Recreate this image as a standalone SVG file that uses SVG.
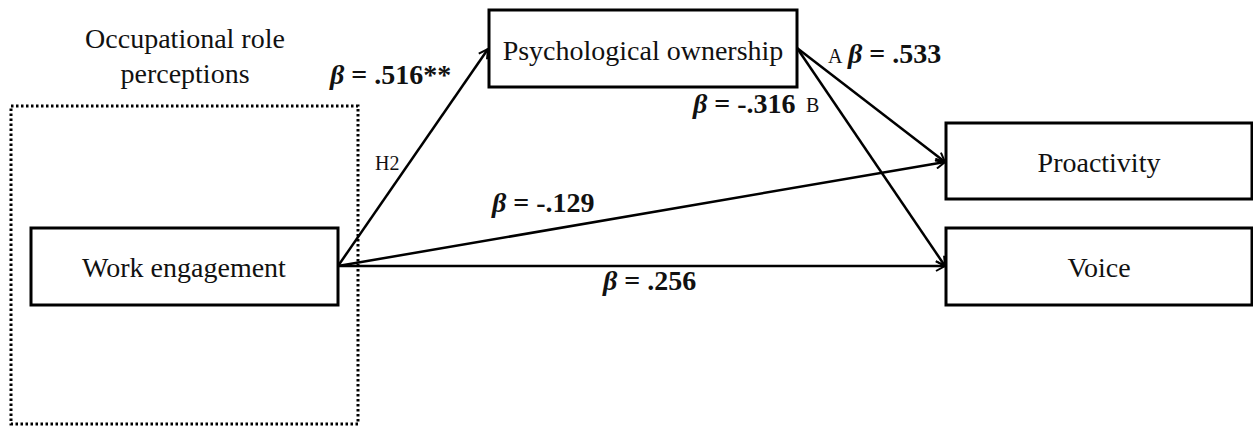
<svg xmlns="http://www.w3.org/2000/svg" width="1253" height="426" viewBox="0 0 1253 426">
<defs>
<style>
.box{fill:#fff;stroke:#000;stroke-width:3}
.lbl{font-family:"Liberation Serif",serif;font-size:28px;fill:#111;text-anchor:middle}
.b{font-family:"Liberation Serif",serif;font-size:28px;font-weight:bold;fill:#111}
.sm{font-family:"Liberation Serif",serif;font-size:20px;fill:#111}
.ln{stroke:#000;stroke-width:2.5;fill:none;marker-end:url(#ah)}
</style>
<marker id="ah" markerWidth="12" markerHeight="12" refX="10" refY="6" orient="auto" markerUnits="userSpaceOnUse">
<path d="M1,1 L10,6 L1,11" fill="none" stroke="#000" stroke-width="2"/>
</marker>
</defs>
<g id="group-occupational">
<rect x="11" y="106" width="347" height="318" fill="none" stroke="#000" stroke-width="3" stroke-dasharray="2.5,2.5"/>
<text class="lbl" x="185" y="48">Occupational role</text>
<text class="lbl" x="185" y="83">perceptions</text>
</g>
<g id="connectors">
<line class="ln" x1="338" y1="266" x2="488" y2="49"/>
<line class="ln" x1="338" y1="266" x2="945" y2="162"/>
<line class="ln" x1="338" y1="266" x2="945" y2="266"/>
<line class="ln" x1="797" y1="48" x2="945" y2="162"/>
<line class="ln" x1="797" y1="48" x2="945" y2="266"/>
<text class="b" x="330" y="84"><tspan font-style="italic">β</tspan> = .516**</text>
<text class="sm" x="375" y="170">H2</text>
<text class="sm" x="828" y="63">A</text>
<text class="b" x="848" y="63"><tspan font-style="italic">β</tspan> = .533</text>
<text class="b" x="693" y="113"><tspan font-style="italic">β</tspan> = -.316</text>
<text class="sm" x="806" y="112">B</text>
<text class="b" x="492" y="212"><tspan font-style="italic">β</tspan> = -.129</text>
<text class="b" x="603" y="290"><tspan font-style="italic">β</tspan> = .256</text>
</g>
<g id="node-work">
<rect class="box" x="31" y="228" width="307" height="77"/>
<text class="lbl" x="184" y="277">Work engagement</text>
</g>
<g id="node-psych">
<rect class="box" x="489" y="10" width="308" height="77"/>
<text class="lbl" x="643" y="60">Psychological ownership</text>
</g>
<g id="node-proactivity">
<rect class="box" x="946" y="123" width="306" height="76"/>
<text class="lbl" x="1099" y="172">Proactivity</text>
</g>
<g id="node-voice">
<rect class="box" x="946" y="228" width="306" height="77"/>
<text class="lbl" x="1099" y="277">Voice</text>
</g>
</svg>
